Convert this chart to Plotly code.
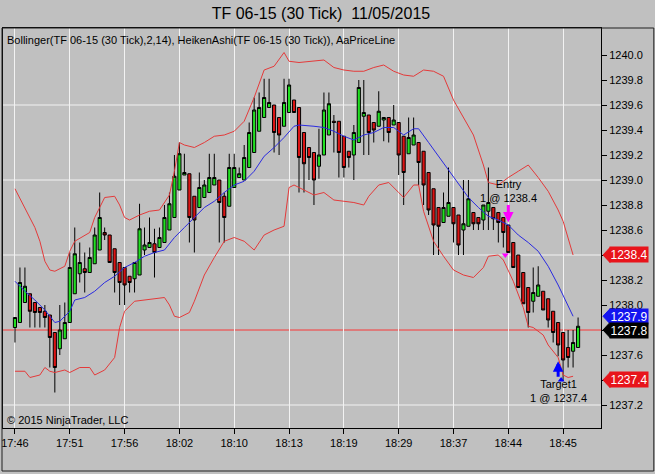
import plotly.graph_objects as go

FONT = "Liberation Sans, Arial, sans-serif"

title = "TF 06-15 (30 Tick)  11/05/2015"
indicator_label = "Bollinger(TF 06-15 (30 Tick),2,14), HeikenAshi(TF 06-15 (30 Tick)), AaPriceLine"
copyright_text = "\u00a9 2015 NinjaTrader, LLC"

# x axis: bar index -> time label
time_ticks = [0, 11, 22, 33, 44, 55, 66, 77, 88, 99, 110]
time_labels = ["17:46", "17:51", "17:56", "18:02", "18:10", "18:13",
               "18:19", "18:29", "18:37", "18:44", "18:45"]

# price axis labels
price_ticks = [1237.2, 1237.4, 1237.6, 1237.8, 1238.0, 1238.2, 1238.4,
               1238.6, 1238.8, 1239.0, 1239.2, 1239.4, 1239.6, 1239.8, 1240.0]

# Heiken Ashi bars (one per 30 ticks)
opens = [1237.82, 1237.86, 1238.02, 1238.09, 1238.02, 1237.98, 1237.95, 1237.92, 1237.78, 1237.65,
         1237.73, 1237.86, 1238.09, 1238.25, 1238.29, 1238.26, 1238.33, 1238.44, 1238.58, 1238.56,
         1238.45, 1238.34, 1238.30, 1238.23, 1238.21, 1238.24, 1238.44, 1238.46, 1238.49, 1238.46,
         1238.50, 1238.60, 1238.70, 1238.92, 1239.04, 1239.05, 1238.87, 1238.78, 1238.86, 1238.90,
         1238.96, 1239.00, 1238.87, 1238.79, 1238.94, 1239.02, 1239.00, 1239.10, 1239.22, 1239.39,
         1239.50, 1239.58, 1239.60, 1239.50, 1239.43, 1239.54, 1239.64, 1239.58, 1239.38, 1239.26,
         1239.22, 1239.11, 1239.20, 1239.36, 1239.47, 1239.47, 1239.35, 1239.23, 1239.20, 1239.30,
         1239.51, 1239.52, 1239.46, 1239.43, 1239.48, 1239.50, 1239.44, 1239.46, 1239.35, 1239.21,
         1239.28, 1239.30, 1239.23, 1239.06, 1238.93, 1238.78, 1238.66, 1238.71, 1238.78, 1238.72,
         1238.60, 1238.63, 1238.74, 1238.70, 1238.68, 1238.75, 1238.78, 1238.74, 1238.70, 1238.64,
         1238.50, 1238.40, 1238.26, 1238.14, 1238.03, 1238.07, 1238.11, 1238.05, 1237.95, 1237.86,
         1237.78, 1237.66, 1237.63, 1237.66]
highs = [1237.90, 1238.30, 1238.30, 1238.09, 1238.02, 1237.98, 1238.00, 1237.92, 1237.78, 1238.00,
         1238.02, 1238.42, 1238.62, 1238.50, 1238.42, 1238.46, 1238.62, 1238.90, 1238.62, 1238.56,
         1238.45, 1238.34, 1238.30, 1238.23, 1238.34, 1238.81, 1238.62, 1238.70, 1238.61, 1238.62,
         1238.80, 1238.90, 1239.20, 1239.30, 1239.21, 1239.05, 1238.87, 1239.06, 1239.00, 1239.21,
         1239.21, 1239.00, 1238.90, 1239.21, 1239.21, 1239.10, 1239.28, 1239.46, 1239.66, 1239.70,
         1239.81, 1239.81, 1239.60, 1239.50, 1239.81, 1239.81, 1239.64, 1239.58, 1239.38, 1239.26,
         1239.22, 1239.41, 1239.70, 1239.70, 1239.52, 1239.47, 1239.35, 1239.23, 1239.44, 1239.80,
         1239.80, 1239.52, 1239.46, 1239.71, 1239.50, 1239.50, 1239.60, 1239.46, 1239.35, 1239.50,
         1239.50, 1239.30, 1239.23, 1239.06, 1238.93, 1238.78, 1238.90, 1239.10, 1238.78, 1238.72,
         1239.00, 1239.00, 1238.74, 1238.70, 1238.80, 1239.10, 1238.78, 1238.74, 1238.70, 1238.64,
         1238.50, 1238.40, 1238.26, 1238.14, 1238.30, 1238.31, 1238.11, 1238.05, 1237.95, 1237.86,
         1237.78, 1237.80, 1237.80, 1237.90]
lows = [1237.70, 1237.86, 1238.02, 1237.82, 1237.82, 1237.82, 1237.82, 1237.50, 1237.30, 1237.60,
        1237.73, 1237.86, 1238.09, 1238.18, 1238.10, 1238.26, 1238.33, 1238.44, 1238.52, 1238.34,
        1238.10, 1238.00, 1238.00, 1238.10, 1238.10, 1238.24, 1238.40, 1238.46, 1238.22, 1238.46,
        1238.50, 1238.60, 1238.70, 1238.92, 1239.04, 1238.50, 1238.42, 1238.78, 1238.86, 1238.90,
        1238.96, 1238.50, 1238.50, 1238.79, 1238.94, 1239.02, 1239.00, 1239.10, 1239.22, 1239.39,
        1239.50, 1239.58, 1239.22, 1239.20, 1239.43, 1239.54, 1239.54, 1238.90, 1238.90, 1239.00,
        1238.80, 1239.01, 1239.20, 1239.36, 1239.22, 1239.02, 1239.02, 1239.10, 1239.00, 1239.30,
        1239.20, 1239.20, 1239.30, 1239.43, 1239.31, 1239.30, 1239.44, 1239.04, 1238.80, 1239.21,
        1239.28, 1238.96, 1238.80, 1238.72, 1238.40, 1238.40, 1238.66, 1238.71, 1238.50, 1238.40,
        1238.40, 1238.63, 1238.60, 1238.60, 1238.60, 1238.60, 1238.60, 1238.50, 1238.46, 1238.42,
        1238.30, 1238.14, 1238.01, 1237.82, 1237.94, 1238.07, 1237.96, 1237.82, 1237.70, 1237.59,
        1237.39, 1237.50, 1237.50, 1237.66]
closes = [1237.90, 1238.18, 1238.15, 1237.95, 1237.94, 1237.94, 1237.90, 1237.74, 1237.50, 1237.80,
          1237.86, 1238.30, 1238.41, 1238.34, 1238.26, 1238.38, 1238.56, 1238.70, 1238.56, 1238.34,
          1238.26, 1238.18, 1238.16, 1238.18, 1238.34, 1238.61, 1238.48, 1238.50, 1238.42, 1238.54,
          1238.70, 1238.81, 1239.03, 1239.21, 1239.06, 1238.70, 1238.68, 1238.94, 1238.96, 1239.02,
          1239.02, 1238.82, 1238.70, 1239.10, 1239.10, 1239.05, 1239.18, 1239.38, 1239.56, 1239.58,
          1239.66, 1239.62, 1239.38, 1239.36, 1239.62, 1239.76, 1239.54, 1239.18, 1239.13, 1239.18,
          1239.00, 1239.20, 1239.56, 1239.61, 1239.46, 1239.22, 1239.10, 1239.18, 1239.38, 1239.74,
          1239.54, 1239.38, 1239.40, 1239.55, 1239.50, 1239.38, 1239.48, 1239.20, 1239.06, 1239.34,
          1239.36, 1239.14, 1238.96, 1238.76, 1238.64, 1238.63, 1238.78, 1238.82, 1238.65, 1238.48,
          1238.65, 1238.85, 1238.65, 1238.65, 1238.80, 1238.82, 1238.69, 1238.66, 1238.58, 1238.42,
          1238.30, 1238.14, 1238.01, 1237.94, 1238.10, 1238.16, 1237.96, 1237.88, 1237.78, 1237.68,
          1237.56, 1237.58, 1237.70, 1237.83]

# Bollinger(2,14) at a subset of bars
upper_x = [0, 2, 4, 5, 6, 7, 8, 10, 11, 12, 15, 16, 18, 20, 21, 22, 23, 25, 27, 29, 31, 32, 33, 34,
           36, 38, 40, 42, 44, 46, 48, 50, 52, 54, 55, 57, 60, 62, 64, 66, 68, 70, 72, 74, 76, 78,
           80, 82, 84, 86, 88, 90, 92, 94, 95, 97, 99, 101, 103, 105, 107, 109, 110, 112]
upper_y = [1238.93, 1238.78, 1238.62, 1238.51, 1238.35, 1238.28, 1238.27, 1238.31, 1238.43, 1238.51,
           1238.58, 1238.70, 1238.86, 1238.87, 1238.80, 1238.70, 1238.68, 1238.72, 1238.75, 1238.76,
           1238.88, 1239.07, 1239.30, 1239.28, 1239.26, 1239.30, 1239.35, 1239.36, 1239.39, 1239.47,
           1239.66, 1239.88, 1239.91, 1240.02, 1239.95, 1239.94, 1239.95, 1239.96, 1239.90, 1239.88,
           1239.87, 1239.87, 1239.90, 1239.92, 1239.87, 1239.84, 1239.83, 1239.88, 1239.87, 1239.83,
           1239.64, 1239.50, 1239.36, 1239.12, 1238.98, 1238.96, 1239.02, 1239.07, 1239.12, 1239.02,
           1238.91, 1238.76, 1238.67, 1238.40]

middle_x = [0, 2, 4, 6, 8, 9, 11, 12, 14, 16, 18, 20, 22, 24, 26, 28, 30, 32, 34, 36, 38, 40, 42,
            44, 46, 48, 50, 52, 54, 56, 57, 60, 62, 64, 66, 68, 70, 72, 74, 76, 78, 80, 81, 83, 85,
            87, 89, 91, 93, 95, 97, 99, 101, 103, 105, 107, 109, 111, 112]
middle_y = [1238.19, 1238.11, 1238.04, 1237.96, 1237.86, 1237.87, 1237.95, 1238.04, 1238.06, 1238.11,
            1238.18, 1238.23, 1238.30, 1238.34, 1238.39, 1238.42, 1238.44, 1238.54, 1238.62, 1238.70,
            1238.78, 1238.83, 1238.90, 1238.96, 1238.99, 1239.07, 1239.19, 1239.26, 1239.34, 1239.43,
            1239.44, 1239.43, 1239.42, 1239.39, 1239.35, 1239.32, 1239.36, 1239.38, 1239.42, 1239.42,
            1239.36, 1239.41, 1239.41, 1239.30, 1239.19, 1239.07, 1238.96, 1238.86, 1238.78, 1238.71,
            1238.68, 1238.64, 1238.56, 1238.50, 1238.43, 1238.31, 1238.16, 1238.00, 1237.91]

lower_x = [0, 2, 3, 5, 6, 7, 8, 10, 11, 13, 15, 16, 18, 20, 21, 22, 24, 26, 28, 30, 31, 32, 33, 35,
           36, 38, 40, 42, 44, 46, 48, 50, 52, 54, 55, 56, 57, 60, 62, 64, 66, 68, 70, 71, 73, 75,
           77, 78, 80, 81, 82, 84, 86, 88, 90, 92, 94, 95, 97, 98, 100, 102, 103, 104, 106, 107,
           109, 110, 111, 112]
lower_y = [1237.47, 1237.47, 1237.42, 1237.44, 1237.50, 1237.47, 1237.46, 1237.48, 1237.46, 1237.50,
           1237.50, 1237.44, 1237.48, 1237.58, 1237.82, 1237.95, 1238.03, 1238.04, 1238.05, 1238.06,
           1238.00, 1237.91, 1237.90, 1237.94, 1238.03, 1238.24, 1238.38, 1238.51, 1238.54, 1238.51,
           1238.44, 1238.56, 1238.60, 1238.63, 1238.94, 1238.96, 1238.94, 1238.88, 1238.90, 1238.84,
           1238.83, 1238.82, 1238.80, 1238.87, 1238.96, 1238.98, 1238.90, 1238.86, 1238.96, 1238.96,
           1238.75, 1238.51, 1238.39, 1238.28, 1238.24, 1238.22, 1238.30, 1238.39, 1238.40, 1238.36,
           1238.19, 1237.98, 1237.83, 1237.82, 1237.76, 1237.68, 1237.58, 1237.44, 1237.42, 1237.43]

price_line = 1237.8
entry_bar, entry_price = 99, 1238.4
target_bar, target_price = 109, 1237.4
grid_levels = [1237.2, 1237.8, 1238.4, 1239.0, 1239.6]

# right-axis price markers: (value, colour)
price_tags = [(entry_price, "#E8141B"), (middle_y[-1], "#1414F0"),
              (price_line, "#000000"), (target_price, "#E8141B")]

Y_MIN, Y_MAX = 1237.016, 1240.216
X_MIN, X_MAX = -2.4, 117.6
BG = "#C0C0C0"
GRID = "#F2F2F2"

fig = go.Figure()

for gy in grid_levels:
    fig.add_hline(y=gy, line=dict(color=GRID, width=1), layer="below")

fig.add_trace(go.Scatter(x=upper_x, y=upper_y, mode="lines",
                         line=dict(color="#E43A3A", width=1), hoverinfo="skip"))
fig.add_trace(go.Scatter(x=lower_x, y=lower_y, mode="lines",
                         line=dict(color="#E43A3A", width=1), hoverinfo="skip"))
fig.add_trace(go.Scatter(x=middle_x, y=middle_y, mode="lines",
                         line=dict(color="#2A2AE0", width=1), hoverinfo="skip"))

fig.add_hline(y=price_line, line=dict(color="#E01E1E", width=1), layer="below")

bars = list(range(len(opens)))
fig.add_trace(go.Candlestick(
    x=bars, open=opens, high=highs, low=lows, close=closes,
    increasing=dict(fillcolor="#22E022", line=dict(color="#000000", width=1)),
    decreasing=dict(fillcolor="#DC1414", line=dict(color="#000000", width=1)),
    whiskerwidth=0, showlegend=False))

# execution markers
fig.add_trace(go.Scatter(x=[entry_bar - 0.6], y=[entry_price], mode="markers",
                         marker=dict(symbol="triangle-down", size=6, color="#FF00FF")))
fig.add_trace(go.Scatter(x=[target_bar + 0.6], y=[target_price], mode="markers",
                         marker=dict(symbol="triangle-up", size=6, color="#0000FF")))

fig.add_annotation(x=entry_bar, y=highs[entry_bar] + 0.02, text="Entry<br>1 @ 1238.4",
                   showarrow=True, ax=0, ay=-32, arrowhead=2, arrowsize=0.7, arrowwidth=3,
                   arrowcolor="#FF00FF", font=dict(family=FONT, size=11, color="#000000"))
fig.add_annotation(x=target_bar, y=lows[target_bar] - 0.04, text="Target1<br>1 @ 1237.4",
                   showarrow=True, ax=0, ay=30, arrowhead=2, arrowsize=0.7, arrowwidth=3,
                   arrowcolor="#0000FF", font=dict(family=FONT, size=11, color="#000000"))

fig.add_annotation(x=0, y=1, xref="paper", yref="paper", xanchor="left", yanchor="top",
                   xshift=2, yshift=-4, text=indicator_label, showarrow=False,
                   font=dict(family=FONT, size=11, color="#000000"))
fig.add_annotation(x=0, y=0, xref="paper", yref="paper", xanchor="left", yanchor="bottom",
                   xshift=2, yshift=0, text=copyright_text, showarrow=False,
                   font=dict(family=FONT, size=11, color="#000000"))

# price tags on the right axis
plot_w, plot_h = 600, 400
tag_values = [round(v, 1) for v, _ in price_tags]
for val, col in price_tags:
    py = (val - Y_MIN) / (Y_MAX - Y_MIN)
    hh = 7.5 / plot_h
    x_tip = 1 + 2 / plot_w
    x_base = 1 + 9 / plot_w
    fig.add_shape(type="path", xref="paper", yref="paper",
                  path=f"M {x_tip},{py} L {x_base},{py + hh} L {x_base},{py - hh} Z",
                  fillcolor=col, line=dict(color=col, width=1))
    fig.add_annotation(x=1, y=py, xref="paper", yref="paper", xanchor="left", yanchor="middle",
                       xshift=8, text=f"{val:.1f}", showarrow=False, bgcolor=col,
                       width=36, height=13, borderpad=1,
                       font=dict(family=FONT, size=12, color="#FFFFFF"))

# tick labels hidden under a full price tag
price_ticktext = ["" if (round(p, 1) in tag_values and round(p, 1) != 1238.0) else f"{p:.1f}"
                  for p in price_ticks]

# outer frame of the chart panel
fig.add_shape(type="rect", xref="paper", yref="paper",
              x0=-1 / plot_w, x1=653 / plot_w, y0=-43 / plot_h, y1=1,
              line=dict(color="#202020", width=1))

fig.update_layout(
    width=655, height=474,
    margin=dict(l=1, r=54, t=28, b=46),
    paper_bgcolor=BG, plot_bgcolor=BG,
    showlegend=False,
    boxgap=0.1,
    font=dict(family=FONT, size=11, color="#000000"),
    title=dict(text=title, x=0.49, xref="container", xanchor="center",
               y=1 - 13 / 474, yref="container", yanchor="middle",
               font=dict(family=FONT, size=16, color="#000000")),
    xaxis=dict(range=[X_MIN, X_MAX], tickvals=time_ticks, ticktext=time_labels,
               showgrid=True, gridcolor=GRID, gridwidth=1, zeroline=False,
               ticks="outside", ticklen=5, tickcolor="#000000",
               showline=True, linecolor="#000000", mirror=True,
               ticklabeloverflow="allow",
               rangeslider=dict(visible=False), tickfont=dict(size=11)),
    yaxis=dict(range=[Y_MIN, Y_MAX], side="right", tickvals=price_ticks,
               ticktext=price_ticktext, showgrid=False, zeroline=False,
               ticks="outside", ticklen=5, tickcolor="#000000",
               showline=True, linecolor="#000000", mirror=True,
               tickfont=dict(size=11)),
)

fig.write_html("out.html", config={"displayModeBar": False},
               post_script="document.body.style.margin = '0';")
